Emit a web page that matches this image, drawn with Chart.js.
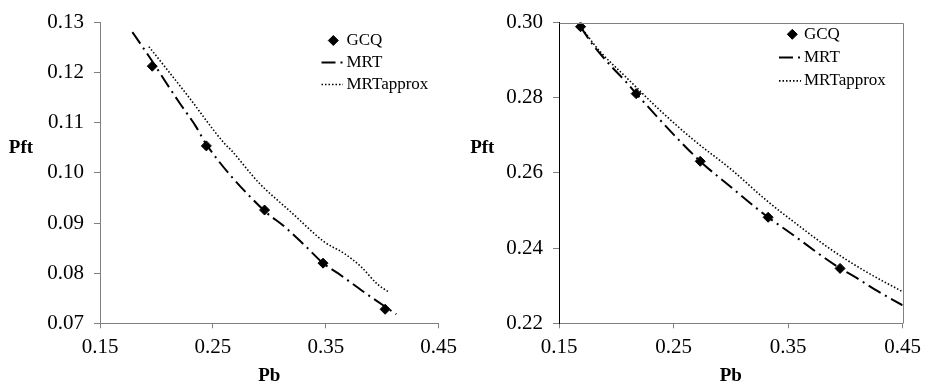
<!DOCTYPE html>
<html>
<head>
<meta charset="utf-8">
<script src="https://cdn.jsdelivr.net/npm/chart.js@4.4.0/dist/chart.umd.min.js"></script>
<style>
  html, body { margin: 0; padding: 0; background: #fff; }
  #wrap { position: relative; width: 928px; height: 389px; }
  canvas { position: absolute; top: 0; }
</style>
</head>
<body>
<div id="wrap">
  <canvas id="left" width="464" height="389" style="left:0"></canvas>
  <canvas id="right" width="464" height="389" style="left:464px"></canvas>
</div>
<script>
// tick labels
const xTicks = [0.15, 0.25, 0.35, 0.45];
const leftYTicks = [0.07, 0.08, 0.09, 0.10, 0.11, 0.12, 0.13];
const rightYTicks = [0.22, 0.24, 0.26, 0.28, 0.30];
const seriesNames = ['GCQ', 'MRT', 'MRTapprox'];

// left panel
const leftGcqPb  = [0.1963, 0.2442, 0.2958, 0.3476, 0.4026];
const leftGcqPft = [0.1213, 0.1054, 0.0926, 0.0820, 0.0728];
const leftMrtPb  = [0.1787, 0.1948, 0.2086, 0.2210, 0.2349, 0.2442, 0.2949, 0.3139, 0.3307, 0.3476, 0.3607, 0.3853, 0.4125];
const leftMrtPft = [0.1281, 0.1228, 0.1180, 0.1138, 0.1093, 0.1057, 0.0926, 0.0892, 0.0857, 0.0820, 0.0800, 0.0760, 0.0718];
const leftApproxPb  = [0.1933, 0.2264, 0.2598, 0.2668, 0.2905, 0.3197, 0.3490, 0.3666, 0.3812, 0.3958, 0.4061];
const leftApproxPft = [0.1252, 0.1158, 0.1060, 0.1044, 0.0981, 0.0921, 0.0862, 0.0839, 0.0813, 0.0778, 0.0762];

// right panel
const rightGcqPb  = [0.1688, 0.2174, 0.2733, 0.3326, 0.3954];
const rightGcqPft = [0.2989, 0.2811, 0.2631, 0.2482, 0.2346];
const rightMrtPb  = [0.1688, 0.1791, 0.1934, 0.2095, 0.2174, 0.2733, 0.2947, 0.3326, 0.3498, 0.3954, 0.4076, 0.4279, 0.45];
const rightMrtPft = [0.2989, 0.2943, 0.2891, 0.2839, 0.2811, 0.2631, 0.2576, 0.2482, 0.2445, 0.2346, 0.2325, 0.2286, 0.2248];
const rightApproxPb  = [0.1688, 0.1856, 0.2088, 0.2377, 0.2666, 0.3013, 0.3303, 0.3592, 0.3881, 0.4171, 0.45];
const rightApproxPft = [0.2989, 0.2924, 0.2854, 0.2768, 0.2690, 0.2607, 0.2529, 0.2460, 0.2395, 0.2339, 0.2284];

const SERIF = '"Liberation Serif", "Times New Roman", serif';
const GREY = '#808080';

function pts(xs, ys) {
  return xs.map((x, i) => ({x: x, y: ys[i]}));
}

// horizontal "Pft" title and the legend inside the plot
const panelText = {
  id: 'panelText',
  afterDraw(chart, args, opts) {
    const ctx = chart.ctx;
    ctx.save();
    ctx.fillStyle = '#000';
    ctx.font = 'bold 19px ' + SERIF;
    ctx.textAlign = 'center';
    ctx.textBaseline = 'middle';
    ctx.fillText('Pft', opts.titleX, opts.titleY);

    ctx.font = '17px ' + SERIF;
    ctx.textAlign = 'left';
    chart.data.datasets.forEach((ds, i) => {
      const y = opts.legendY + i * opts.legendGap;
      if (ds.showLine === false) {
        Chart.helpers.drawPoint(ctx, {
          pointStyle: 'rectRot', radius: ds.pointRadius, rotation: 0, borderWidth: 1
        }, opts.markerX, y);
        ctx.fillStyle = '#000';
        ctx.strokeStyle = '#000';
      } else {
        ctx.save();
        ctx.strokeStyle = ds.borderColor;
        ctx.lineWidth = ds.borderWidth;
        ctx.setLineDash(ds.borderDash);
        ctx.beginPath();
        ctx.moveTo(opts.lineX0, y);
        ctx.lineTo(opts.lineX1, y);
        ctx.stroke();
        ctx.restore();
      }
      ctx.fillText(ds.label, opts.textX, y);
    });
    ctx.restore();
  }
};

// top and right border of the plot box
const boxFrame = {
  id: 'boxFrame',
  afterDraw(chart, args, opts) {
    if (!opts.show) return;
    const a = chart.chartArea;
    const ctx = chart.ctx;
    ctx.save();
    ctx.strokeStyle = GREY;
    ctx.lineWidth = 1;
    ctx.beginPath();
    ctx.moveTo(Math.round(a.left) + 0.5, Math.round(a.top) + 0.5);
    ctx.lineTo(Math.round(a.right) + 0.5, Math.round(a.top) + 0.5);
    ctx.lineTo(Math.round(a.right) + 0.5, Math.round(a.bottom) + 0.5);
    ctx.stroke();
    ctx.restore();
  }
};

function makePanel(id, p) {
  return new Chart(document.getElementById(id), {
    type: 'scatter',
    data: {
      datasets: [
        {
          label: seriesNames[0], data: pts(p.gcqPb, p.gcqPft), showLine: false,
          pointStyle: 'rectRot', pointRadius: 5, pointBackgroundColor: '#000',
          pointBorderColor: '#000', pointBorderWidth: 1
        },
        {
          label: seriesNames[1], data: pts(p.mrtPb, p.mrtPft), showLine: true,
          borderColor: '#000', borderWidth: 2, borderDash: [14, 5, 2, 5],
          pointRadius: 0, cubicInterpolationMode: 'monotone'
        },
        {
          label: seriesNames[2], data: pts(p.apPb, p.apPft), showLine: true,
          borderColor: '#000', borderWidth: 1.6, borderDash: [1.5, 2],
          pointRadius: 0, cubicInterpolationMode: 'monotone'
        }
      ]
    },
    options: {
      responsive: false,
      animation: false,
      layout: { padding: { left: 0, right: p.padRight, top: p.padTop, bottom: 0 } },
      plugins: {
        legend: { display: false },
        tooltip: { enabled: false },
        panelText: p.text,
        boxFrame: { show: p.frame }
      },
      scales: {
        x: {
          type: 'linear', min: 0.15, max: 0.45,
          afterBuildTicks: s => { s.ticks = xTicks.map(v => ({value: v})); },
          afterFit: s => { s.height = 65.7; },
          ticks: {
            callback: v => v.toFixed(2), color: '#000', padding: 7,
            font: { family: SERIF, size: 21 }, maxRotation: 0
          },
          grid: { drawOnChartArea: false, color: GREY, tickLength: 5 },
          border: { color: GREY, width: 1 },
          title: {
            display: true, text: 'Pb', color: '#000',
            font: { family: SERIF, size: 19, weight: 'bold' },
            padding: { top: 0, bottom: 2 }
          }
        },
        y: {
          type: 'linear', min: p.yTicks[0], max: p.yTicks[p.yTicks.length - 1],
          afterBuildTicks: s => { s.ticks = p.yTicks.map(v => ({value: v})); },
          afterFit: s => { s.width = p.yWidth; },
          ticks: {
            callback: v => v.toFixed(2), color: '#000', padding: 10,
            font: { family: SERIF, size: 21 }
          },
          grid: { drawOnChartArea: false, color: GREY, tickLength: 6 },
          border: { color: p.yAxisColor, width: 1 }
        }
      }
    },
    plugins: [panelText, boxFrame]
  });
}

makePanel('left', {
  gcqPb: leftGcqPb, gcqPft: leftGcqPft,
  mrtPb: leftMrtPb, mrtPft: leftMrtPft,
  apPb: leftApproxPb, apPft: leftApproxPft,
  yTicks: leftYTicks, yWidth: 100, padRight: 22.3, padTop: 15.3,
  yAxisColor: GREY, frame: false,
  text: { titleX: 21, titleY: 148, legendY: 40.5, legendGap: 22,
          markerX: 333.3, lineX0: 321.5, lineX1: 343, textX: 346.5 }
});

makePanel('right', {
  gcqPb: rightGcqPb, gcqPft: rightGcqPft,
  mrtPb: rightMrtPb, mrtPft: rightMrtPft,
  apPb: rightApproxPb, apPft: rightApproxPft,
  yTicks: rightYTicks, yWidth: 95, padRight: 23.3, padTop: 15.7,
  yAxisColor: '#000', frame: true,
  text: { titleX: 18.3, titleY: 148, legendY: 34.3, legendGap: 23.3,
          markerX: 328.3, lineX0: 315, lineX1: 337, textX: 340 }
});
</script>
</body>
</html>
